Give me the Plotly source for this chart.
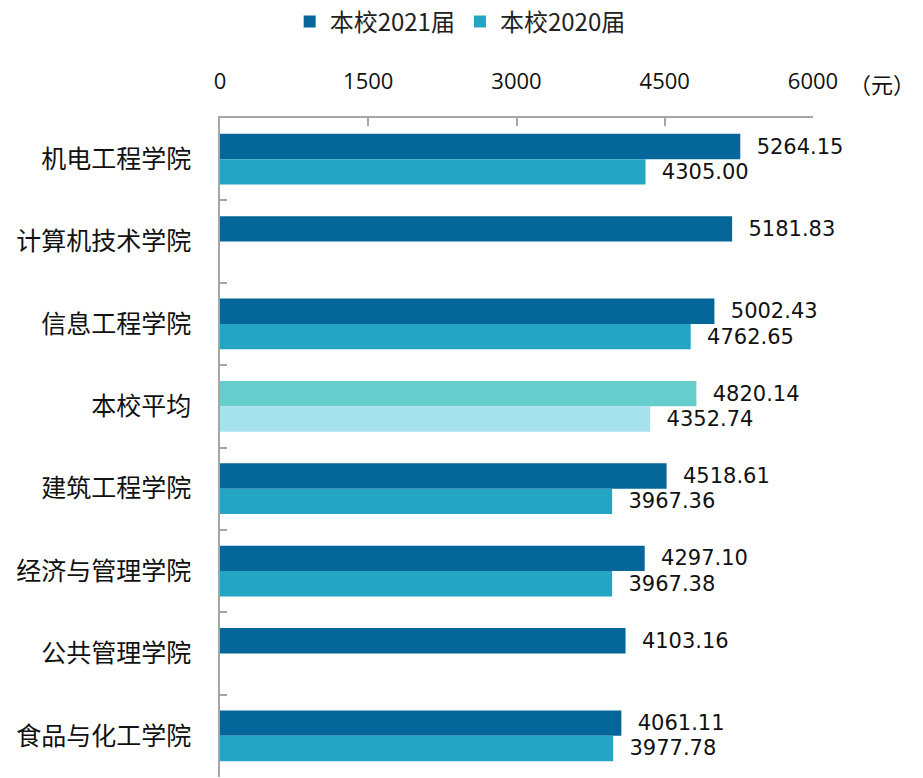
import plotly.graph_objects as go

# Monthly income by college, graduates of 2021 vs 2020 (元)
colleges = ["机电工程学院", "计算机技术学院", "信息工程学院", "本校平均",
            "建筑工程学院", "经济与管理学院", "公共管理学院", "食品与化工学院"]
income_2021 = [5264.15, 5181.83, 5002.43, 4820.14, 4518.61, 4297.10, 4103.16, 4061.11]
income_2020 = [4305.00, None, 4762.65, 4352.74, 3967.36, 3967.38, None, 3977.78]
x_ticks = [0, 1500, 3000, 4500, 6000]

C21, C20 = "#05669A", "#25A5C4"
AVG21, AVG20 = "#66CCCC", "#A6E1EE"
colors_2021 = [AVG21 if c == "本校平均" else C21 for c in colleges]
colors_2020 = [AVG20 if c == "本校平均" else C20 for c in colleges]

NUM_FONT = dict(family="DejaVu Sans", size=21, color="#111111")
CJK = "Noto Sans CJK SC"


def labels(vals):
    return ["" if v is None else f"  {v:.2f}" for v in vals]


fig = go.Figure()
fig.add_trace(go.Bar(
    name="本校2021届", y=colleges, x=income_2021, orientation="h",
    marker=dict(color=colors_2021, line=dict(width=0)),
    text=labels(income_2021), textposition="outside", textfont=NUM_FONT,
    cliponaxis=False,
))
fig.add_trace(go.Bar(
    name="本校2020届", y=colleges, x=income_2020, orientation="h",
    marker=dict(color=colors_2020, line=dict(width=0)),
    text=labels(income_2020), textposition="outside", textfont=NUM_FONT,
    cliponaxis=False,
))

fig.update_layout(
    width=923, height=778,
    margin=dict(l=220, r=110, t=118, b=1, autoexpand=False),
    paper_bgcolor="white", plot_bgcolor="white",
    barmode="group", bargap=0.385, bargroupgap=0,
    showlegend=True,
    legend=dict(
        orientation="h", x=0.405, xanchor="center", y=1.146, yanchor="middle",
        font=dict(family=CJK, size=24, color="#222222"),
        itemwidth=30, traceorder="normal",
    ),
    xaxis=dict(
        side="top", range=[0, 6000], tickvals=x_ticks,
        ticktext=[str(v) for v in x_ticks],
        showgrid=False, zeroline=False,
        showline=True, linecolor="#A6A6A6", linewidth=1.5,
        ticks="inside", ticklen=8, tickcolor="#A6A6A6", tickwidth=1.5,
        tickfont=dict(family="Open Sans", size=22, color="#111111"),
        ticklabelstandoff=18,
    ),
    yaxis=dict(
        autorange="reversed", type="category",
        showgrid=False, zeroline=False,
        showline=True, linecolor="#A6A6A6", linewidth=1.5,
        ticks="inside", ticklen=7, tickcolor="#A6A6A6", tickwidth=1.5,
        tickson="boundaries",
        tickfont=dict(family=CJK, size=25, color="#111111"),
        ticklabelstandoff=22,
    ),
    annotations=[dict(
        text="（元）", xref="paper", yref="paper",
        x=1.117, y=1.053, xanchor="center", yanchor="middle",
        showarrow=False, font=dict(family=CJK, size=22, color="#111111"),
    )],
)

fig.write_html("out.html")
